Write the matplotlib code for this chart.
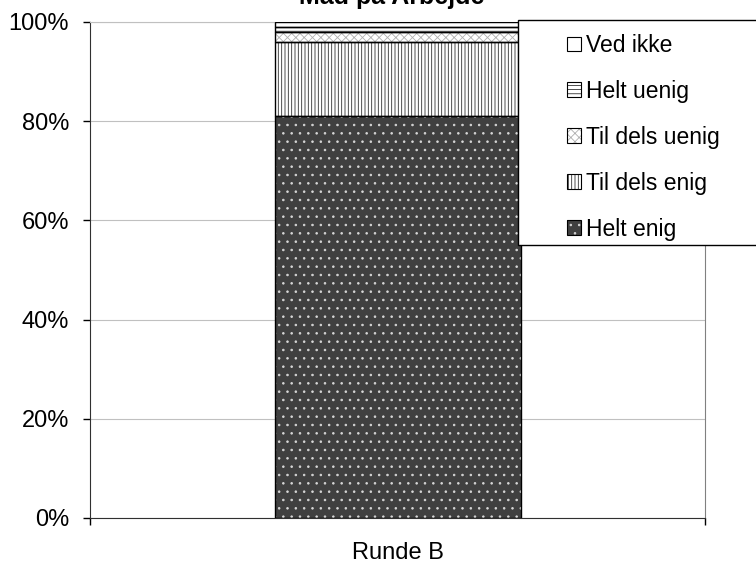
import matplotlib
matplotlib.use('Agg')
import matplotlib.pyplot as plt
from matplotlib.patches import Patch, Rectangle
from matplotlib.legend_handler import HandlerTuple
from matplotlib import rcParams

rcParams['font.family'] = ['Liberation Sans', 'DejaVu Sans']
rcParams['hatch.linewidth'] = 0.6

categories = ['Runde B']
series = ['Helt enig', 'Til dels enig', 'Til dels uenig', 'Helt uenig', 'Ved ikke']
values = [81, 15, 2, 1, 1]
fills = ['#404040', 'white', 'white', 'white', 'white']
hatches = ['..', '|||||', 'xxxx', '----', '']
hatch_cols = ['#d8d8d8', '#303030', '#b0b0b0', '#303030', 'white']
ytick_vals = [0, 20, 40, 60, 80, 100]
ytick_labels = ['0%', '20%', '40%', '60%', '80%', '100%']
title = 'Mad på Arbejde'

fig = plt.figure(figsize=(7.56, 5.63), dpi=100)
ax = fig.add_axes([90 / 756, 1 - 518 / 563, 615 / 756, 496 / 563])

x = range(len(categories))
bottom = [0] * len(categories)
handles = []
for name, v, fc, h, hc in zip(series, values, fills, hatches, hatch_cols):
    vals = [v]
    ax.bar(x, vals, width=0.4, bottom=bottom, color=fc, hatch=h,
           edgecolor=hc, linewidth=0, zorder=2)
    ax.bar(x, vals, width=0.4, bottom=bottom, fill=False,
           edgecolor='black', linewidth=1, zorder=3)
    bottom = [b + v for b in bottom]
    handles.append((Patch(facecolor=fc, hatch=h, edgecolor=hc, linewidth=0),
                    Patch(fill=False, edgecolor='black', linewidth=0.8)))

ax.set_xlim(-0.5, 0.5)
ax.set_ylim(0, 100)
ax.set_yticks(ytick_vals)
ax.set_yticklabels(ytick_labels, fontsize=17)
ax.set_xticks(list(x))
ax.set_xticklabels(categories, fontsize=17)
ax.set_xticks([-0.5, 0.5], minor=True)
ax.tick_params(axis='x', which='major', length=0, pad=17)
ax.tick_params(axis='x', which='minor', length=5, direction='out', width=1)
ax.tick_params(axis='y', length=5, direction='out', width=1, pad=10)
ax.grid(axis='y', color='#c0c0c0', linewidth=0.8, zorder=0)
ax.set_axisbelow(True)
for s in ['left', 'bottom']:
    ax.spines[s].set_color('#303030')
ax.spines['right'].set_color('#808080')
ax.spines['top'].set_color('#c0c0c0')
ax.spines['top'].set_linewidth(0.8)

fig.text(392 / 756, 1 - 4 / 563, title, ha='center', va='baseline',
         fontsize=18, fontweight='bold')

# legend frame drawn separately so the padding matches
fig.add_artist(Rectangle((518 / 756, 1 - 245 / 563), 0.4, 225 / 563,
                         transform=fig.transFigure, facecolor='white',
                         edgecolor='black', linewidth=1, zorder=3))
leg = fig.legend(handles[::-1], series[::-1], loc='upper left',
                 bbox_to_anchor=(567 / 756, 1 - 34 / 563),
                 frameon=False, fontsize=16.5, borderpad=0, borderaxespad=0,
                 handlelength=0.62, handleheight=0.62, handletextpad=0.22,
                 labelspacing=1.0,
                 handler_map={tuple: HandlerTuple(ndivide=1, pad=0)})
leg.set_zorder(5)

plt.savefig('out.png', dpi=100)
